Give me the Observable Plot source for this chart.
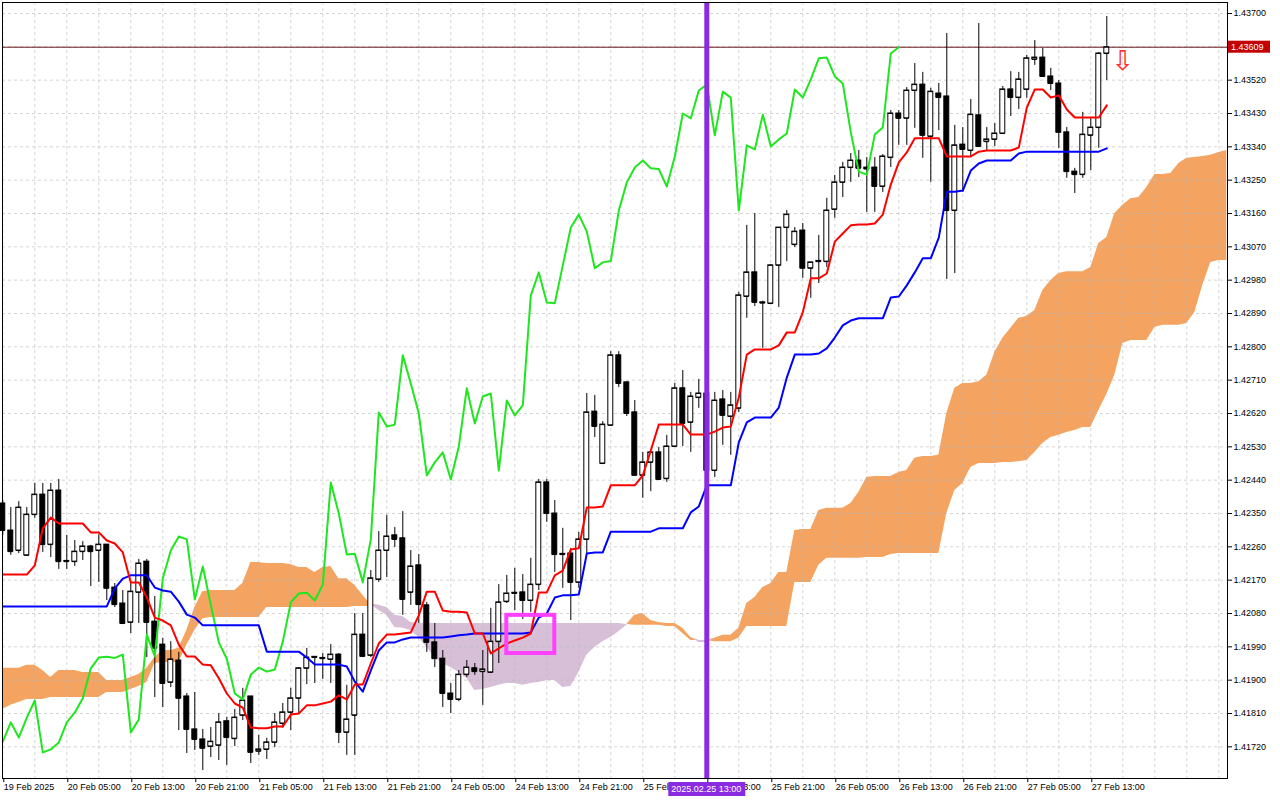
<!DOCTYPE html>
<html>
<head>
<meta charset="utf-8">
<script src="https://cdn.jsdelivr.net/npm/d3@7"></script>
<script src="https://cdn.jsdelivr.net/npm/@observablehq/plot@0.6"></script>
<style>
  html, body { margin: 0; padding: 0; background: #fff; }
  #chart { width: 1280px; height: 800px; }
</style>
</head>
<body>
<div id="chart"></div>
<script>
// ---- candles (hourly bars, index 0 = 19 Feb 21:00) ----
const opens = [
1.42377,1.42304,1.42250,1.42237,1.42347,1.42401,1.42266,1.42412,1.42220,1.42220,
1.42247,1.42261,1.42250,1.42266,1.42150,1.42107,1.42056,1.42137,1.42220,1.42058,
1.41996,1.41894,1.41953,1.41856,1.41767,1.41740,1.41721,1.41724,1.41789,1.41742,
1.41805,1.41856,1.41708,1.41713,1.41732,1.41783,1.41813,1.41851,1.41932,1.41961,
1.41958,1.41956,1.41969,1.41759,1.41805,1.42023,1.41967,1.42172,1.42250,1.42291,
1.42283,1.42137,1.42210,1.42102,1.42002,1.41958,1.41864,1.41848,1.41915,1.41932,
1.41923,1.41921,1.42004,1.42112,1.42134,1.42137,1.42115,1.42158,1.42434,1.42350,
1.42239,1.42242,1.42164,1.42280,1.42625,1.42485,1.42588,1.42777,1.42704,1.42623,
1.42453,1.42488,1.42515,1.42444,1.42531,1.42688,1.42596,1.42663,1.42674,1.42466,
1.42658,1.42612,1.42634,1.42936,1.43001,1.42920,1.42917,1.43020,1.43122,1.43076,
1.43114,1.43012,1.43030,1.43030,1.43171,1.43244,1.43284,1.43303,1.43284,1.43284,
1.43233,1.43311,1.43430,1.43417,1.43492,1.43508,1.43368,1.43484,1.43476,1.43168,
1.43346,1.43330,1.43425,1.43354,1.43360,1.43376,1.43495,1.43473,1.43495,1.43576,
1.43581,1.43530,1.43511,1.43379,1.43273,1.43265,1.43371,1.43392,1.43592];
const highs = [
1.42385,1.42366,1.42382,1.42366,1.42431,1.42431,1.42431,1.42442,1.42291,1.42277,
1.42274,1.42264,1.42293,1.42266,1.42161,1.42142,1.42161,1.42226,1.42226,1.42126,
1.42013,1.42004,1.41975,1.41864,1.41867,1.41767,1.41772,1.41810,1.41799,1.41821,
1.41878,1.41856,1.41751,1.41743,1.41810,1.41837,1.41878,1.41934,1.41986,1.41963,
1.41972,1.41996,1.41972,1.41886,1.42080,1.42080,1.42196,1.42301,1.42345,1.42312,
1.42355,1.42250,1.42239,1.42110,1.42053,1.41980,1.41891,1.41926,1.41953,1.41945,
1.41980,1.42094,1.42158,1.42183,1.42202,1.42185,1.42229,1.42442,1.42442,1.42385,
1.42310,1.42256,1.42299,1.42674,1.42669,1.42598,1.42787,1.42787,1.42706,1.42655,
1.42515,1.42515,1.42528,1.42561,1.42701,1.42736,1.42677,1.42712,1.42690,1.42677,
1.42682,1.42677,1.42947,1.43128,1.43160,1.42923,1.43022,1.43122,1.43168,1.43122,
1.43133,1.43028,1.43101,1.43201,1.43263,1.43298,1.43322,1.43330,1.43311,1.43311,
1.43319,1.43438,1.43438,1.43500,1.43565,1.43541,1.43498,1.43511,1.43646,1.43398,
1.43392,1.43468,1.43673,1.43392,1.43403,1.43503,1.43543,1.43541,1.43587,1.43627,
1.43606,1.43552,1.43519,1.43392,1.43282,1.43433,1.43417,1.43595,1.43692];
const lows = [
1.42291,1.42237,1.42242,1.42234,1.42337,1.42245,1.42231,1.42199,1.42199,1.42207,
1.42223,1.42153,1.42164,1.42115,1.42096,1.42050,1.42026,1.42053,1.41961,1.41853,
1.41826,1.41880,1.41764,1.41702,1.41710,1.41656,1.41691,1.41683,1.41670,1.41721,
1.41791,1.41675,1.41697,1.41686,1.41718,1.41770,1.41764,1.41810,1.41888,1.41891,
1.41902,1.41891,1.41729,1.41697,1.41697,1.41961,1.41961,1.42164,1.42177,1.42258,
1.42075,1.42102,1.42053,1.41975,1.41934,1.41826,1.41810,1.41842,1.41907,1.41913,
1.41832,1.41918,1.41945,1.42107,1.42088,1.42064,1.42083,1.42142,1.42326,1.42191,
1.42148,1.42061,1.42148,1.42242,1.42555,1.42482,1.42585,1.42690,1.42612,1.42453,
1.42391,1.42409,1.42439,1.42434,1.42528,1.42531,1.42515,1.42634,1.42435,1.42447,
1.42534,1.42507,1.42623,1.42877,1.42909,1.42796,1.42914,1.42906,1.43030,1.43068,
1.42985,1.42931,1.42971,1.43014,1.43147,1.43203,1.43244,1.43257,1.43163,1.43163,
1.43217,1.43284,1.43344,1.43344,1.43390,1.43309,1.43244,1.43384,1.42982,1.42998,
1.43217,1.43311,1.43338,1.43330,1.43341,1.43376,1.43422,1.43441,1.43471,1.43560,
1.43527,1.43492,1.43336,1.43255,1.43214,1.43255,1.43276,1.43336,1.43519];
const closes = [
1.42304,1.42247,1.42366,1.42347,1.42401,1.42266,1.42412,1.42220,1.42222,1.42247,
1.42261,1.42247,1.42266,1.42148,1.42104,1.42053,1.42139,1.42215,1.42056,1.41986,
1.41891,1.41956,1.41851,1.41767,1.41740,1.41716,1.41734,1.41786,1.41745,1.41799,
1.41845,1.41705,1.41713,1.41732,1.41786,1.41813,1.41851,1.41932,1.41961,1.41963,
1.41960,1.41969,1.41759,1.41794,1.42023,1.41964,1.42175,1.42250,1.42288,1.42280,
1.42118,1.42207,1.42104,1.42002,1.41958,1.41864,1.41848,1.41915,1.41934,1.41923,
1.41929,1.42004,1.42110,1.42134,1.42136,1.42115,1.42158,1.42434,1.42350,1.42239,
1.42241,1.42164,1.42280,1.42623,1.42585,1.42590,1.42777,1.42701,1.42620,1.42453,
1.42488,1.42515,1.42442,1.42531,1.42688,1.42593,1.42666,1.42674,1.42466,1.42655,
1.42615,1.42642,1.42939,1.43001,1.42920,1.42918,1.43020,1.43122,1.43157,1.43111,
1.43012,1.43028,1.43032,1.43168,1.43244,1.43284,1.43303,1.43282,1.43280,1.43233,
1.43314,1.43430,1.43417,1.43492,1.43508,1.43371,1.43489,1.43473,1.43168,1.43344,
1.43333,1.43427,1.43341,1.43360,1.43376,1.43495,1.43473,1.43522,1.43579,1.43581,
1.43530,1.43511,1.43379,1.43273,1.43265,1.43373,1.43392,1.43592,1.43609];

// ---- Ichimoku lines ----
const tenkan = [
1.42185,1.42185,1.42185,1.42185,1.42210,1.42310,1.42339,1.42323,1.42323,1.42323,
1.42323,1.42299,1.42299,1.42277,1.42269,1.42245,1.42164,1.42164,1.42123,1.42069,
1.42061,1.42048,1.41996,1.41964,1.41964,1.41942,1.41940,1.41905,1.41864,1.41837,
1.41826,1.41772,1.41770,1.41770,1.41775,1.41775,1.41807,1.41810,1.41832,1.41832,
1.41837,1.41842,1.41859,1.41848,1.41888,1.41888,1.41945,1.41999,1.42023,1.42023,
1.42026,1.42029,1.42075,1.42139,1.42139,1.42088,1.42085,1.42085,1.42083,1.42026,
1.42026,1.41972,1.41986,1.41999,1.42007,1.42015,1.42026,1.42137,1.42137,1.42183,
1.42196,1.42253,1.42256,1.42366,1.42366,1.42369,1.42426,1.42426,1.42426,1.42426,
1.42453,1.42520,1.42590,1.42590,1.42590,1.42590,1.42563,1.42563,1.42563,1.42571,
1.42582,1.42585,1.42663,1.42779,1.42793,1.42793,1.42793,1.42804,1.42839,1.42839,
1.42893,1.42985,1.42985,1.42998,1.43084,1.43106,1.43128,1.43130,1.43130,1.43133,
1.43157,1.43238,1.43298,1.43325,1.43363,1.43363,1.43363,1.43363,1.43314,1.43314,
1.43314,1.43314,1.43327,1.43330,1.43330,1.43330,1.43330,1.43338,1.43446,1.43495,
1.43495,1.43473,1.43479,1.43441,1.43419,1.43419,1.43419,1.43419,1.43452];
const kijun = [
1.42099,1.42099,1.42099,1.42099,1.42099,1.42099,1.42099,1.42099,1.42099,1.42099,
1.42099,1.42099,1.42099,1.42099,1.42148,1.42174,1.42183,1.42183,1.42183,1.42150,
1.42142,1.42139,1.42112,1.42077,1.42069,1.42048,1.42048,1.42048,1.42048,1.42048,
1.42048,1.42048,1.42048,1.41977,1.41977,1.41977,1.41977,1.41977,1.41961,1.41942,
1.41942,1.41942,1.41942,1.41937,1.41896,1.41869,1.41926,1.41980,1.42002,1.42002,
1.42010,1.42015,1.42015,1.42015,1.42015,1.42015,1.42018,1.42021,1.42023,1.42026,
1.42026,1.42026,1.42026,1.42026,1.42026,1.42026,1.42029,1.42069,1.42080,1.42123,
1.42129,1.42129,1.42131,1.42242,1.42245,1.42245,1.42301,1.42301,1.42301,1.42301,
1.42301,1.42301,1.42310,1.42310,1.42310,1.42310,1.42353,1.42369,1.42426,1.42426,
1.42426,1.42426,1.42542,1.42596,1.42609,1.42609,1.42609,1.42636,1.42717,1.42779,
1.42779,1.42779,1.42782,1.42796,1.42825,1.42858,1.42871,1.42877,1.42877,1.42877,
1.42877,1.42933,1.42936,1.42966,1.43001,1.43039,1.43039,1.43095,1.43219,1.43219,
1.43222,1.43276,1.43295,1.43303,1.43303,1.43303,1.43303,1.43322,1.43327,1.43327,
1.43327,1.43327,1.43327,1.43327,1.43327,1.43327,1.43327,1.43327,1.43336];
// Senkou spans as plotted (already shifted 26 bars ahead), index 0..153
const spanA = [
1.41932,1.41932,1.41932,1.41940,1.41940,1.41926,1.41907,1.41926,1.41926,1.41926,
1.41921,1.41921,1.41921,1.41899,1.41899,1.41899,1.41907,1.41915,1.41932,1.41961,
1.41980,1.41980,1.41986,1.42034,1.42096,1.42139,1.42142,1.42142,1.42142,1.42142,
1.42161,1.42218,1.42218,1.42215,1.42215,1.42215,1.42212,1.42204,1.42204,1.42191,
1.42204,1.42207,1.42174,1.42174,1.42156,1.42129,1.42104,1.42088,1.42075,1.42042,
1.42040,1.42034,1.42015,1.41988,1.41961,1.41945,1.41934,1.41921,1.41905,1.41872,
1.41875,1.41880,1.41886,1.41891,1.41891,1.41886,1.41891,1.41894,1.41899,1.41899,
1.41880,1.41883,1.41921,1.41967,1.41988,1.42004,1.42015,1.42031,1.42048,1.42075,
1.42080,1.42061,1.42056,1.42053,1.42053,1.42040,1.42015,1.42002,1.42002,1.42013,
1.42021,1.42021,1.42040,1.42107,1.42123,1.42150,1.42161,1.42191,1.42191,1.42304,
1.42307,1.42307,1.42358,1.42364,1.42364,1.42364,1.42377,1.42407,1.42447,1.42450,
1.42450,1.42450,1.42461,1.42466,1.42499,1.42504,1.42504,1.42507,1.42620,1.42688,
1.42701,1.42701,1.42706,1.42723,1.42785,1.42823,1.42850,1.42877,1.42882,1.42898,
1.42952,1.42979,1.42998,1.43003,1.43003,1.43003,1.43014,1.43079,1.43095,1.43160,
1.43182,1.43200,1.43203,1.43230,1.43265,1.43265,1.43268,1.43295,1.43309,1.43311,
1.43314,1.43317,1.43325,1.43330];
const spanB = [
1.41821,1.41832,1.41840,1.41848,1.41848,1.41848,1.41853,1.41853,1.41853,1.41853,
1.41853,1.41853,1.41853,1.41867,1.41867,1.41867,1.41875,1.41883,1.41894,1.41945,
1.41948,1.41948,1.41948,1.41994,1.42034,1.42066,1.42069,1.42069,1.42069,1.42069,
1.42069,1.42069,1.42069,1.42096,1.42096,1.42096,1.42096,1.42096,1.42096,1.42096,
1.42096,1.42096,1.42096,1.42096,1.42099,1.42099,1.42099,1.42102,1.42096,1.42075,
1.42072,1.42056,1.42053,1.42053,1.42053,1.42053,1.42053,1.42053,1.42053,1.42053,
1.42053,1.42053,1.42053,1.42053,1.42053,1.42053,1.42053,1.42053,1.42053,1.42053,
1.42053,1.42053,1.42053,1.42053,1.42053,1.42053,1.42053,1.42053,1.42050,1.42048,
1.42048,1.42048,1.42048,1.42045,1.42045,1.42026,1.42007,1.42007,1.42007,1.42004,
1.42004,1.42004,1.42013,1.42045,1.42045,1.42045,1.42045,1.42045,1.42045,1.42164,
1.42164,1.42164,1.42210,1.42229,1.42229,1.42229,1.42229,1.42229,1.42231,1.42231,
1.42231,1.42239,1.42242,1.42242,1.42242,1.42242,1.42242,1.42242,1.42350,1.42412,
1.42431,1.42474,1.42485,1.42485,1.42485,1.42488,1.42488,1.42490,1.42493,1.42515,
1.42539,1.42555,1.42561,1.42569,1.42574,1.42582,1.42582,1.42628,1.42671,1.42723,
1.42809,1.42817,1.42817,1.42817,1.42852,1.42858,1.42858,1.42858,1.42863,1.42893,
1.42966,1.43028,1.43033,1.43033];
const chikouShift = 26;

// ---- axes ----
const priceTicks = [1.4172,1.4181,1.4190,1.4199,1.4208,1.4217,1.4226,1.4235,1.4244,1.4253,1.4262,
  1.4271,1.4280,1.4289,1.4298,1.4307,1.4316,1.4325,1.4334,1.4343,1.4352,1.4370];
const gridPrices = [1.4172,1.4181,1.4190,1.4199,1.4208,1.4217,1.4226,1.4235,1.4244,1.4253,1.4262,
  1.4271,1.4280,1.4289,1.4298,1.4307,1.4316,1.4325,1.4334,1.4343,1.4352,1.4361,1.4370];
const timeTickIdx = [0,8,16,24,32,40,48,56,64,72,80,88,96,104,112,120,128,136];
const timeLabels = ["19 Feb 2025","20 Feb 05:00","20 Feb 13:00","20 Feb 21:00","21 Feb 05:00",
  "21 Feb 13:00","21 Feb 21:00","24 Feb 05:00","24 Feb 13:00","24 Feb 21:00","25 Feb 05:00",
  "25 Feb 13:00","25 Feb 21:00","26 Feb 05:00","26 Feb 13:00","26 Feb 21:00","27 Feb 05:00","27 Feb 13:00"];
const gridIdx = [0,4,8,12,16,20,24,28,32,36,40,44,48,52,56,60,64,68,72,76,80,84,88,92,96,100,
  104,108,112,116,120,124,128,132,136,140,144,148,152];

// ---- annotations ----
const currentPrice = 1.43609;
const markerBar = 88;
const markerLabel = "2025.02.25 13:00";
const highlightBox = [{from: 63, to: 69, top: 1.42075, bottom: 1.41972}];
const signal = [{i: 140, price: 1.43570}];

// ---- build tables ----
const candles = opens.map((o, i) => ({i, o, h: highs[i], l: lows[i], c: closes[i]}));
const tenkanData = tenkan.map((v, i) => ({i, v}));
const kijunData = kijun.map((v, i) => ({i, v}));
const cloud = spanA.map((a, i) => ({i, a, b: spanB[i]}));
const chikou = closes.slice(chikouShift).map((v, j) => ({i: j, v}));

const FONT = "'Liberation Sans', Arial, sans-serif";

const chart = Plot.plot({
  width: 1280,
  height: 800,
  marginLeft: 2,
  marginRight: 53,
  marginTop: 2,
  marginBottom: 22,
  style: {fontFamily: FONT, fontSize: "9px", background: "#ffffff", color: "#000"},
  x: {domain: [-0.0375, 153.0875]},
  y: {domain: [1.416345, 1.437297]},
  marks: [
    // kumo
    Plot.areaY(cloud, {x: "i", y1: "b", y2: d => Math.max(d.a, d.b), fill: "#f4a460", curve: "linear"}),
    Plot.areaY(cloud, {x: "i", y1: "a", y2: d => Math.max(d.a, d.b), fill: "#d8bfd8", curve: "linear"}),
    // grid
    Plot.gridY(gridPrices, {stroke: "#b8b8b8", strokeOpacity: 0.6, strokeDasharray: "3,3"}),
    Plot.gridX(gridIdx, {stroke: "#b8b8b8", strokeOpacity: 0.6, strokeDasharray: "3,3"}),
    // current price line
    Plot.ruleY([currentPrice], {stroke: "#6b1414", strokeWidth: 1}),
    // candles
    Plot.ruleX(candles, {x: "i", y1: "l", y2: "h", stroke: "#000", strokeWidth: 1}),
    Plot.rect(candles, {x1: d => d.i - 0.31, x2: d => d.i + 0.31, y1: "o", y2: "c",
      fill: d => d.c >= d.o ? "#fff" : "#000", stroke: "#000", strokeWidth: 1}),
    Plot.ruleY(candles, {y: "c", x1: d => d.i - 0.31, x2: d => d.i + 0.31, stroke: "#000", strokeWidth: 1}),
    Plot.ruleY(candles, {y: "o", x1: d => d.i - 0.31, x2: d => d.i + 0.31, stroke: "#000", strokeWidth: 1}),
    // lines
    Plot.line(chikou, {x: "i", y: "v", stroke: "#1fe61f", strokeWidth: 2}),
    Plot.line(kijunData, {x: "i", y: "v", stroke: "#0000ff", strokeWidth: 2}),
    Plot.line(tenkanData, {x: "i", y: "v", stroke: "#ff0000", strokeWidth: 2}),
    // highlight box
    Plot.rect(highlightBox, {x1: "from", x2: "to", y1: "bottom", y2: "top", fill: "none", stroke: "#ff40ff", strokeWidth: 4}),
    // vertical marker
    Plot.ruleX([markerBar], {stroke: "#8a2be2", strokeWidth: 5}),
    // signal arrow
    Plot.text(signal, {x: "i", y: "price", text: () => "\u21E9", fill: "#ff2a2a", fontSize: 27, fontFamily: "DejaVu Sans"}),
    Plot.frame({stroke: "#000"}),
    Plot.axisY(priceTicks, {anchor: "right", tickFormat: d3.format(".5f"), tickSize: 4, tickPadding: 2, label: null}),
    Plot.axisX(timeTickIdx, {anchor: "bottom", tickFormat: d => timeLabels[timeTickIdx.indexOf(d)], textAnchor: "start",
      tickSize: 4, tickPadding: 1, dx: 1, label: null})
  ]
});

document.getElementById("chart").appendChild(chart);

// price tag and date tag positioned with the plot's own scales
const sy = chart.scale("y"), sx = chart.scale("x");
const svg = d3.select(chart);
const py = sy.apply(currentPrice);
const tag = svg.append("g").attr("text-anchor", "start");
tag.append("rect").attr("x", 1228).attr("y", py - 6).attr("width", 42).attr("height", 12).attr("fill", "#c40000");
tag.append("text").attr("x", 1231).attr("y", py).attr("dy", "0.35em").attr("fill", "#fff")
  .attr("text-anchor", "start").attr("font-size", 9).attr("font-family", FONT).text(d3.format(".5f")(currentPrice));
const mx = sx.apply(markerBar);
const dtag = svg.append("g");
dtag.append("rect").attr("x", mx - 38).attr("y", 782).attr("width", 77).attr("height", 14).attr("fill", "#8a2be2");
dtag.append("text").attr("x", mx).attr("y", 789).attr("dy", "0.35em").attr("text-anchor", "middle").attr("fill", "#fff")
  .attr("font-size", 9).attr("font-family", FONT).text(markerLabel);
</script>
</body>
</html>
